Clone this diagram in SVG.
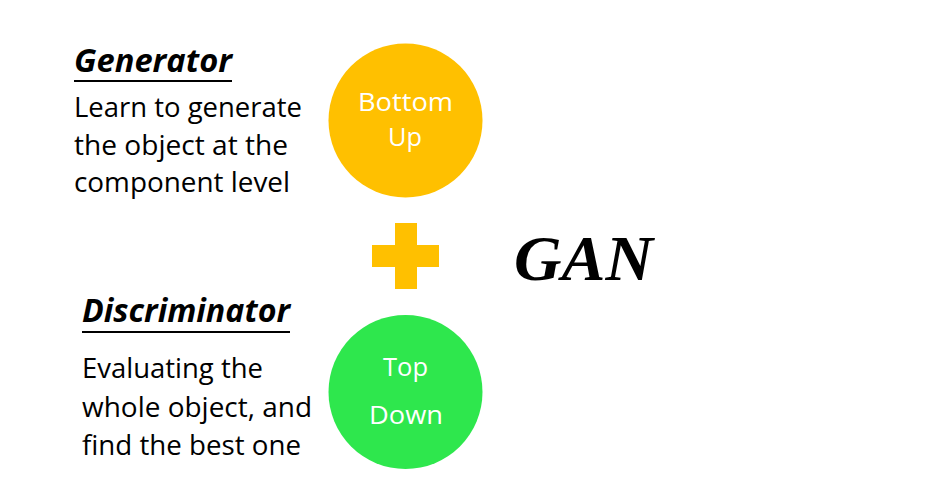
<svg xmlns="http://www.w3.org/2000/svg" width="950" height="504" viewBox="0 0 950 504">
<style>
.title{font-family:"Open Sans","Noto Sans",sans-serif;font-weight:bold;font-style:italic;font-size:33px;fill:#000}
.body{font-family:"Open Sans","Noto Sans",sans-serif;font-size:27.5px;fill:#000}
.lbl{font-family:"Open Sans","Noto Sans",sans-serif;font-size:26px;fill:#fff;text-anchor:middle}
.gan{font-family:"Liberation Serif","DejaVu Serif",serif;font-weight:bold;font-style:italic;font-size:64px;fill:#000}
</style>
<rect width="950" height="504" fill="#fff"/>
<g id="generator">
<text class="title" x="74" y="72" textLength="158" lengthAdjust="spacingAndGlyphs">Generator</text>
<rect x="74" y="80" width="158" height="2" fill="#000"/>
<text class="body" x="74" y="117" textLength="228" lengthAdjust="spacingAndGlyphs">Learn to generate</text>
<text class="body" x="74" y="155" textLength="214" lengthAdjust="spacingAndGlyphs">the object at the</text>
<text class="body" x="74" y="192" textLength="216" lengthAdjust="spacingAndGlyphs">component level</text>
</g>
<g id="bottom-up">
<circle cx="405.5" cy="120.5" r="77" fill="#FFC000"/>
<text class="lbl" x="405.5" y="111" textLength="95" lengthAdjust="spacingAndGlyphs">Bottom</text>
<text class="lbl" x="405" y="146" textLength="34" lengthAdjust="spacingAndGlyphs">Up</text>
</g>
<g id="plus">
<rect x="395" y="223" width="22" height="66" fill="#FFC000"/>
<rect x="372" y="245" width="67" height="22" fill="#FFC000"/>
</g>
<g id="gan">
<text class="gan" x="514" y="280" textLength="139" lengthAdjust="spacingAndGlyphs">GAN</text>
</g>
<g id="discriminator">
<text class="title" x="82" y="322" textLength="208" lengthAdjust="spacingAndGlyphs">Discriminator</text>
<rect x="82" y="331" width="208" height="2" fill="#000"/>
<text class="body" x="82" y="378" textLength="181" lengthAdjust="spacingAndGlyphs">Evaluating the</text>
<text class="body" x="82" y="417" textLength="230" lengthAdjust="spacingAndGlyphs">whole object, and</text>
<text class="body" x="82" y="455" textLength="219" lengthAdjust="spacingAndGlyphs">find the best one</text>
</g>
<g id="top-down">
<circle cx="405.5" cy="392" r="77" fill="#2EE74D"/>
<text class="lbl" x="405.5" y="376" textLength="45" lengthAdjust="spacingAndGlyphs">Top</text>
<text class="lbl" x="406" y="424" textLength="74" lengthAdjust="spacingAndGlyphs">Down</text>
</g>
</svg>
